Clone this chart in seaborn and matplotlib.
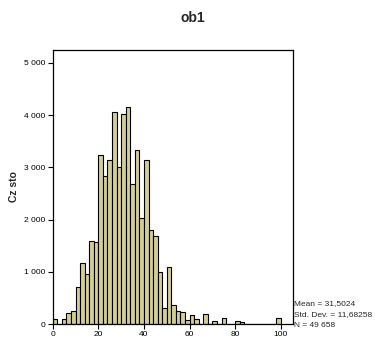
import numpy as np
import pandas as pd
import matplotlib
matplotlib.use("Agg")
import matplotlib.pyplot as plt
from matplotlib.ticker import FuncFormatter
import seaborn as sns

# ---- data ----
bin_edges = list(range(0, 102, 2))  # 0,2,...,100
counts = [96, 0, 100, 222, 248, 705, 1167, 962, 1590, 1577,
          3243, 2833, 3135, 4058, 3000, 4012, 4146, 2673, 3327, 2038,
          3135, 1794, 1686, 994, 321, 1096, 372, 256, 231, 77,
          173, 105, 10, 192, 10, 70, 10, 115, 10, 10,
          62, 38, 15, 10, 8, 8, 6, 6, 6, 128]
title = "ob1"
ylabel = "Cz sto"
xticks = [0, 20, 40, 60, 80, 100]
yticks = [0, 1000, 2000, 3000, 4000, 5000]
stats_lines = ["Mean = 31,5024", "Std. Dev. = 11,68258", "N = 49 658"]

centers = [(bin_edges[i] + bin_edges[i + 1]) / 2 for i in range(len(counts))]
df = pd.DataFrame({"value": centers, "count": counts})

sns.set_style("white")
plt.rcParams["font.family"] = ["Liberation Sans", "DejaVu Sans"]

W, H = 375, 342
fig = plt.figure(figsize=(W / 100, H / 100), dpi=100)
ax_l, ax_r, ax_t, ax_b = 52.7, 293.0, 50.0, 324.3
ax = fig.add_axes([ax_l / W, 1 - ax_b / H, (ax_r - ax_l) / W, (ax_b - ax_t) / H])

sns.histplot(data=df, x="value", weights="count", bins=bin_edges, ax=ax,
             color="#D3CE97", edgecolor="black", linewidth=0.8, alpha=1.0)

ax.set_xlim(0, 105.3)
ax.set_ylim(0, 5243)
ax.set_xticks(xticks)
ax.set_yticks(yticks)
ax.yaxis.set_major_formatter(FuncFormatter(lambda v, p: f"{int(v):,}".replace(",", " ")))
ax.tick_params(axis="both", direction="out", length=3.6, width=0.8, labelsize=6,
               colors="black", pad=1.5)
ax.tick_params(axis="both", bottom=True, left=True)
for s in ax.spines.values():
    s.set_visible(True)
    s.set_color("black")
    s.set_linewidth(0.9)
ax.set_xlabel("")
ax.set_ylabel("")

fig.text(14 / W, 1 - 187 / H, ylabel, rotation=90, fontsize=7.5, fontweight="bold",
         ha="center", va="center")
fig.text(193 / W, 1 - 17.5 / H, title, fontsize=10, fontweight="bold",
         ha="center", va="center")
for i, line in enumerate(stats_lines):
    fig.text(294 / W, 1 - (304 + 10.8 * i) / H, line, fontsize=6,
             ha="left", va="center")

fig.savefig("out.png", dpi=100)
